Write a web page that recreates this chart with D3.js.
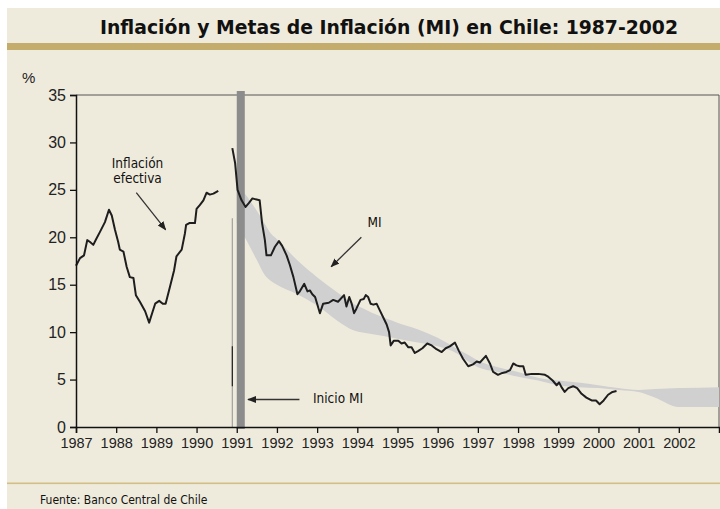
<!DOCTYPE html>
<html><head><meta charset="utf-8">
<script src="https://cdn.jsdelivr.net/npm/d3@7/dist/d3.min.js"></script>
<style>body{margin:0;background:#fff}svg{display:block}</style>
</head><body><svg id="c" width="720" height="509"></svg>
<script>
// ---- data ----
const xTicks = [1987,1988,1989,1990,1991,1992,1993,1994,1995,1996,1997,1998,1999,2000,2001,2002];
const yTicks = [0,5,10,15,20,25,30,35];

const pre1991Years = [1987.00,1987.10,1987.20,1987.28,1987.35,1987.43,1987.50,1987.60,1987.72,1987.82,1987.89,1987.97,1988.05,1988.09,1988.18,1988.26,1988.34,1988.43,1988.49,1988.59,1988.72,1988.82,1988.91,1988.97,1989.07,1989.16,1989.23,1989.34,1989.44,1989.50,1989.63,1989.71,1989.74,1989.82,1989.96,1990.00,1990.08,1990.17,1990.25,1990.33,1990.42,1990.54];
const pre1991Values = [17.0,17.8,18.1,19.7,19.5,19.2,19.8,20.6,21.6,22.9,22.3,20.8,19.5,18.7,18.5,16.9,15.8,15.7,13.9,13.2,12.2,11.0,12.2,13.0,13.3,13.0,13.0,14.8,16.5,18.0,18.7,20.4,21.3,21.5,21.5,23.0,23.4,23.9,24.7,24.5,24.6,24.9];

const miYears = [1990.89,1990.96,1991.02,1991.12,1991.22,1991.30,1991.39,1991.47,1991.57,1991.63,1991.70,1991.74,1991.85,1991.95,1992.05,1992.13,1992.24,1992.32,1992.41,1992.51,1992.57,1992.68,1992.76,1992.82,1992.88,1992.95,1993.07,1993.15,1993.29,1993.40,1993.52,1993.67,1993.73,1993.80,1993.86,1993.92,1993.98,1994.08,1994.16,1994.21,1994.27,1994.33,1994.40,1994.48,1994.56,1994.64,1994.73,1994.79,1994.83,1994.91,1995.02,1995.10,1995.18,1995.27,1995.35,1995.43,1995.51,1995.62,1995.74,1995.85,1995.97,1996.10,1996.20,1996.30,1996.43,1996.53,1996.63,1996.76,1996.88,1996.97,1997.05,1997.20,1997.30,1997.38,1997.50,1997.61,1997.71,1997.80,1997.88,1997.96,1998.04,1998.13,1998.19,1998.34,1998.50,1998.67,1998.75,1998.86,1998.96,1999.02,1999.08,1999.16,1999.25,1999.37,1999.47,1999.58,1999.70,1999.83,1999.94,2000.03,2000.13,2000.24,2000.35,2000.45];
const miValues = [29.4,27.8,25.0,23.9,23.2,23.6,24.1,24.0,23.9,21.5,19.7,18.1,18.1,19.0,19.6,19.1,18.1,17.1,15.8,14.0,14.3,15.1,14.3,14.4,14.0,13.7,12.0,13.0,13.1,13.4,13.2,13.9,12.7,13.7,13.0,12.0,12.5,13.4,13.5,13.9,13.7,13.0,12.9,13.0,12.3,11.6,10.8,10.0,8.6,9.1,9.1,8.8,8.9,8.4,8.4,7.8,8.0,8.3,8.8,8.6,8.2,7.9,8.3,8.5,8.9,8.0,7.2,6.4,6.6,6.9,6.8,7.5,6.7,5.8,5.5,5.7,5.8,6.0,6.7,6.5,6.4,6.4,5.5,5.6,5.6,5.5,5.3,4.9,4.4,4.7,4.2,3.7,4.1,4.3,4.1,3.5,3.1,2.8,2.8,2.4,2.8,3.4,3.7,3.8];

const bandYears = [1991.0,1991.2,1991.5,1991.7,1991.85,1992.0,1992.5,1993.0,1993.5,1993.9,1994.2,1994.5,1995.0,1995.5,1996.0,1996.5,1996.8,1997.0,1997.5,1998.0,1998.5,1999.0,1999.5,2000.0,2000.5,2001.0,2001.4,2002.0,2003.0];
const bandUpper = [25.5,24.6,22.8,21.4,20.4,19.8,17.6,15.8,14.2,13.0,12.4,11.8,11.0,10.3,9.4,8.2,7.5,7.0,6.3,5.8,5.2,4.9,4.7,4.4,4.1,3.9,4.0,4.1,4.2];
const bandLower = [21.5,20.0,17.6,16.0,15.4,15.0,14.0,12.8,11.2,10.2,9.9,9.7,9.3,8.9,8.5,7.7,6.8,6.3,5.8,5.3,4.9,4.4,4.2,4.1,3.9,3.7,3.1,2.1,2.1];

const inicioStart = 1991.0, inicioEnd = 1991.2;
const connectorYear = 1990.89, connectorTop = 22, connectorDarkTop = 8.5, connectorDarkBottom = 4.3;

const title = "Inflación y Metas de Inflación (MI) en Chile: 1987-2002";
const source = "Fuente: Banco Central de Chile";

// ---- drawing ----
const svg = d3.select("#c");
const W = 720, H = 509;
svg.append("rect").attr("width",W).attr("height",H).attr("fill","#fff");
svg.append("rect").attr("x",7).attr("y",8).attr("width",W-7).attr("height",H-8).attr("fill","#efebdc");
svg.append("rect").attr("x",7).attr("y",43).attr("width",W-7).attr("height",7).attr("fill","#c4ad6c");
svg.append("rect").attr("x",7).attr("y",482.5).attr("width",W-7).attr("height",1.6).attr("fill","#d3bf86");

svg.append("text").attr("x",389).attr("y",34).attr("text-anchor","middle")
  .attr("font-family","'Liberation Sans Narrow','DejaVu Sans Condensed','Liberation Sans',sans-serif")
  .attr("font-weight","bold").attr("font-size",20).attr("fill","#111")
  .attr("textLength",578).attr("lengthAdjust","spacingAndGlyphs").text(title);

svg.append("text").attr("x",40).attr("y",504)
  .attr("font-family","'Liberation Sans Narrow','DejaVu Sans Condensed','Liberation Sans',sans-serif")
  .attr("font-size",12).attr("fill","#111").text(source);

const x = d3.scaleLinear().domain([1987,2003]).range([76,719]);
const y = d3.scaleLinear().domain([0,35]).range([427,95]);

// frame top/right
svg.append("path").attr("d",`M${x(1987)},${y(35)}H${x(2003)}V${y(0)}`)
  .attr("fill","none").attr("stroke","#555").attr("stroke-width",1);

// band
const bandData = bandYears.map((d,i)=>({t:d,u:bandUpper[i],l:bandLower[i]}));
svg.append("path").datum(bandData)
  .attr("d",d3.area().x(d=>x(d.t)).y0(d=>y(d.l)).y1(d=>y(d.u)).curve(d3.curveMonotoneX))
  .attr("fill","#d0d0d0");

// connector line
svg.append("line").attr("x1",x(connectorYear)).attr("x2",x(connectorYear))
  .attr("y1",y(connectorTop)).attr("y2",y(0)).attr("stroke","#a0a0a0").attr("stroke-width",1.2);
svg.append("line").attr("x1",x(connectorYear)).attr("x2",x(connectorYear))
  .attr("y1",y(connectorDarkTop)).attr("y2",y(connectorDarkBottom)).attr("stroke","#222").attr("stroke-width",1.2);

// inicio bar
svg.append("rect").attr("x",x(inicioStart)).attr("width",x(inicioEnd)-x(inicioStart))
  .attr("y",y(35)-4).attr("height",y(0)-y(35)+6).attr("fill","#8c8c8c");

// lines
const line = d3.line().x(d=>x(d[0])).y(d=>y(d[1]));
svg.append("path").datum(pre1991Years.map((d,i)=>[d,pre1991Values[i]]))
  .attr("d",line).attr("fill","none").attr("stroke","#1e1e1e").attr("stroke-width",2).attr("stroke-linejoin","round");
svg.append("path").datum(miYears.map((d,i)=>[d,miValues[i]]))
  .attr("d",line).attr("fill","none").attr("stroke","#1e1e1e").attr("stroke-width",2).attr("stroke-linejoin","round");

// axes
const font = "'Liberation Sans',Arial,sans-serif";
const ya = svg.append("g").attr("transform",`translate(${x(1987)},0)`)
  .call(d3.axisLeft(y).tickValues(yTicks).tickSize(6).tickPadding(4));
ya.select(".domain").attr("stroke","#111").attr("stroke-width",1.5);
ya.selectAll(".tick line").attr("stroke","#111").attr("stroke-width",1.3);
ya.selectAll("text").attr("font-family",font).attr("font-size",16).attr("fill","#222");

const xa = svg.append("g").attr("transform",`translate(0,${y(0)})`)
  .call(d3.axisBottom(x).tickValues(xTicks).tickSize(6).tickPadding(5).tickFormat(d3.format("d")));
xa.select(".domain").attr("stroke","#111").attr("stroke-width",1.5);
xa.selectAll(".tick line").attr("stroke","#111").attr("stroke-width",1.3);
xa.selectAll("text").attr("font-family",font).attr("font-size",14.5).attr("fill","#222");

svg.append("text").attr("x",22).attr("y",83).attr("font-family",font).attr("font-size",15).attr("fill","#222").text("%");

// annotations
const defs = svg.append("defs");
defs.append("marker").attr("id","ah").attr("viewBox","0 0 10 10").attr("refX",9).attr("refY",5)
  .attr("markerWidth",9).attr("markerHeight",9).attr("markerUnits","userSpaceOnUse").attr("orient","auto")
  .append("path").attr("d","M0,1L10,5L0,9Z").attr("fill","#222");
const afont = "'Liberation Sans Narrow','DejaVu Sans Condensed','Liberation Sans',sans-serif";
function label(t,xx,yy){svg.append("text").attr("x",xx).attr("y",yy).attr("text-anchor","middle")
  .attr("font-family",afont).attr("font-size",13.5).attr("fill","#111").text(t);}
function arrow(a,b,c,d){svg.append("line").attr("x1",a).attr("y1",b).attr("x2",c).attr("y2",d)
  .attr("stroke","#333").attr("stroke-width",1.3).attr("marker-end","url(#ah)");}
label("Inflación",137.5,168); label("efectiva",137.5,183);
arrow(x(1988.5),y(24.7),x(1989.23),y(20.8));
label("MI",374.5,227);
arrow(x(1994.1),y(20.0),x(1993.35),y(16.9));
label("Inicio MI",338,403);
arrow(x(1992.56),y(2.9),x(1991.28),y(2.9));
</script></body></html>
